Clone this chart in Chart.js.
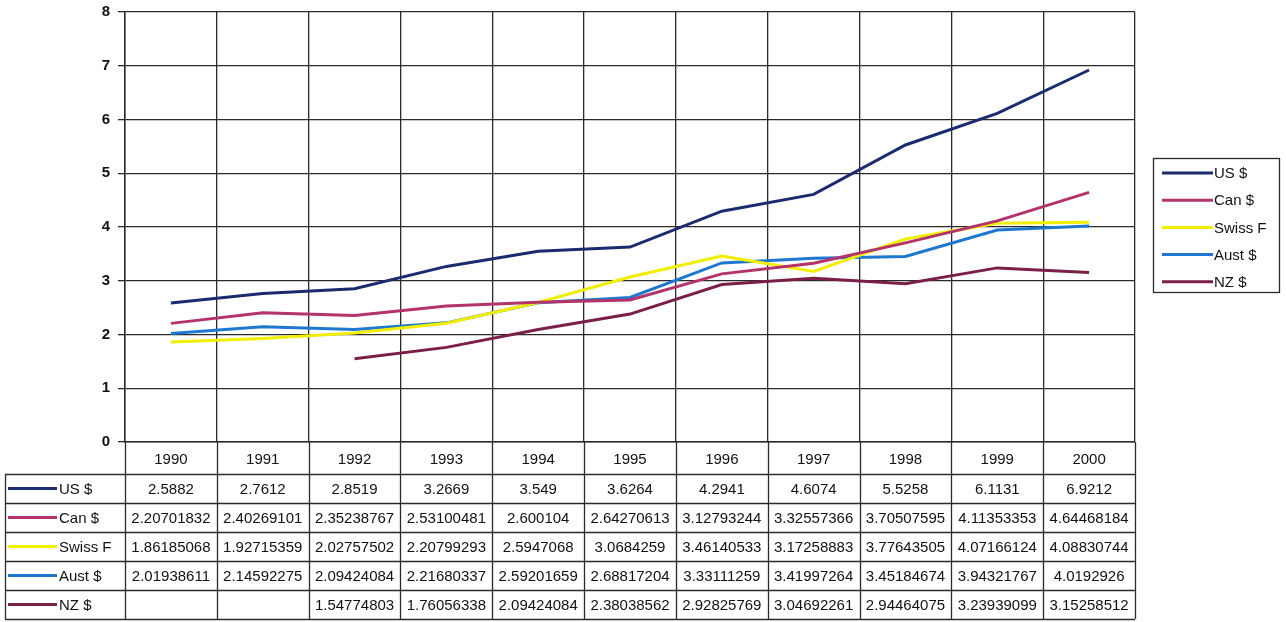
<!DOCTYPE html>
<html>
<head>
<meta charset="utf-8">
<script src="https://cdn.jsdelivr.net/npm/chart.js@4"></script>
<style>
  html, body { margin: 0; padding: 0; background: #fff; }
  canvas { display: block; }
</style>
</head>
<body>
<canvas id="chart" width="1286" height="622"></canvas>
<script>
// years and exchange-rate series
const years = ["1990", "1991", "1992", "1993", "1994", "1995", "1996", "1997", "1998", "1999", "2000"];

const usd = [2.5882, 2.7612, 2.8519, 3.2669, 3.549, 3.6264, 4.2941, 4.6074, 5.5258, 6.1131, 6.9212];
const cad = [2.20701832, 2.40269101, 2.35238767, 2.53100481, 2.600104, 2.64270613, 3.12793244, 3.32557366, 3.70507595, 4.11353353, 4.64468184];
const chf = [1.86185068, 1.92715359, 2.02757502, 2.20799293, 2.5947068, 3.0684259, 3.46140533, 3.17258883, 3.77643505, 4.07166124, 4.08830744];
const aud = [2.01938611, 2.14592275, 2.09424084, 2.21680337, 2.59201659, 2.68817204, 3.33111259, 3.41997264, 3.45184674, 3.94321767, 4.0192926];
const nzd = [null, null, 1.54774803, 1.76056338, 2.09424084, 2.38038562, 2.92825769, 3.04692261, 2.94464075, 3.23939099, 3.15258512];

const seriesNames = ["US $", "Can $", "Swiss F", "Aust $", "NZ $"];
const seriesColors = ["#1c2a6e", "#b3336a", "#f2ee00", "#1e78d0", "#7a2048"];
const seriesData = [usd, cad, chf, aud, nzd];

const FAMILY = "'Liberation Sans', Arial, sans-serif";
const FONT = "15px " + FAMILY;
const ROW_H = 29;
const HEAD_H = 32;
const LINE_COL = "#2a2a2a";

// data table under the plot, columns follow the x scale
const dataTable = {
    id: "dataTable",
    afterDraw(chart) {
        const ctx = chart.ctx;
        const x = chart.scales.x;
        const area = chart.chartArea;
        const half = (x.getPixelForValue(1) - x.getPixelForValue(0)) / 2;
        const left = 5;
        const right = area.right;
        const headBottom = area.bottom + HEAD_H;
        const bottom = headBottom + ROW_H * seriesData.length;

        ctx.save();
        ctx.strokeStyle = LINE_COL;
        ctx.lineWidth = 1.3;
        ctx.beginPath();
        // column borders
        for (let i = 0; i <= years.length; i++) {
            const px = Math.round(x.getPixelForValue(i) - half) + 0.5;
            ctx.moveTo(px, area.bottom);
            ctx.lineTo(px, bottom);
        }
        ctx.moveTo(left + 0.5, headBottom);
        ctx.lineTo(left + 0.5, bottom);
        // row borders
        for (let r = 0; r <= seriesData.length; r++) {
            const py = Math.round(headBottom + r * ROW_H) + 0.5;
            ctx.moveTo(left, py);
            ctx.lineTo(right, py);
        }
        ctx.stroke();

        ctx.fillStyle = "#111";
        ctx.font = FONT;
        ctx.textAlign = "center";
        ctx.textBaseline = "middle";
        years.forEach((y, i) => {
            ctx.fillText(y, x.getPixelForValue(i), area.bottom + HEAD_H / 2 + 2);
        });

        seriesData.forEach((vals, r) => {
            const cy = headBottom + r * ROW_H + ROW_H / 2;
            // row key
            ctx.strokeStyle = seriesColors[r];
            ctx.lineWidth = 3;
            ctx.beginPath();
            ctx.moveTo(8, cy);
            ctx.lineTo(57, cy);
            ctx.stroke();
            ctx.textAlign = "left";
            ctx.fillText(seriesNames[r], 59, cy + 1);
            ctx.textAlign = "center";
            vals.forEach((v, i) => {
                if (v === null) return;
                ctx.fillText(String(v), x.getPixelForValue(i), cy + 1);
            });
        });
        ctx.restore();
    }
};

// boxed legend on the right
const boxLegend = {
    id: "boxLegend",
    afterDraw(chart) {
        const ctx = chart.ctx;
        const bx = 1153, by = 158, bw = 126, bh = 134;
        ctx.save();
        ctx.strokeStyle = LINE_COL;
        ctx.lineWidth = 1.3;
        ctx.strokeRect(bx + 0.5, by + 0.5, bw, bh);
        ctx.font = FONT;
        ctx.textBaseline = "middle";
        ctx.fillStyle = "#111";
        seriesNames.forEach((name, i) => {
            const cy = by + 15 + i * 27.2;
            ctx.strokeStyle = seriesColors[i];
            ctx.lineWidth = 3;
            ctx.beginPath();
            ctx.moveTo(bx + 9, cy);
            ctx.lineTo(bx + 60, cy);
            ctx.stroke();
            ctx.fillText(name, bx + 61, cy + 1);
        });
        ctx.restore();
    }
};

new Chart(document.getElementById("chart"), {
    type: "line",
    data: {
        labels: years,
        datasets: seriesData.map((d, i) => ({
            label: seriesNames[i],
            data: d,
            borderColor: seriesColors[i],
            backgroundColor: seriesColors[i],
            borderWidth: 3,
            pointRadius: 0,
            tension: 0,
            spanGaps: false
        }))
    },
    options: {
        responsive: false,
        animation: false,
        layout: { padding: { top: 12, right: 151, left: 0, bottom: 0 } },
        plugins: {
            legend: { display: false },
            tooltip: { enabled: false }
        },
        scales: {
            x: {
                offset: true,
                grid: { offset: true, color: LINE_COL, lineWidth: 1.3, drawTicks: false },
                border: { color: LINE_COL, width: 1.5 },
                ticks: { display: false },
                afterFit(scale) { scale.height = 180; }
            },
            y: {
                min: 0,
                max: 8,
                ticks: {
                    stepSize: 1,
                    color: "#111",
                    font: { family: FAMILY, size: 15, weight: "bold", lineHeight: 1 },
                    padding: 8
                },
                grid: { color: LINE_COL, lineWidth: 1.3, tickLength: 7 },
                border: { color: LINE_COL, width: 1.5 },
                afterFit(scale) {
                    scale.width = 125;
                    scale.paddingTop = 0;
                }
            }
        }
    },
    plugins: [dataTable, boxLegend]
});
</script>
</body>
</html>
